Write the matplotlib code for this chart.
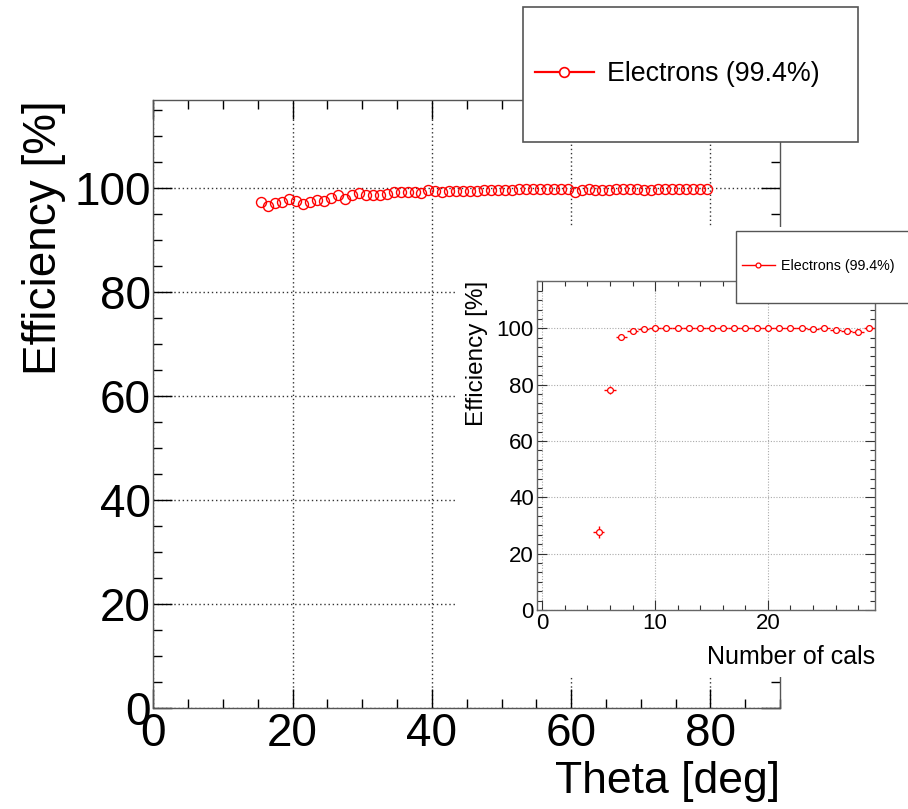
import numpy as np
import matplotlib
matplotlib.use("Agg")
import matplotlib.pyplot as plt
from matplotlib.patches import Rectangle
from matplotlib.lines import Line2D
from matplotlib.ticker import MultipleLocator

plt.rcParams['font.family'] = ['Liberation Sans', 'DejaVu Sans']

# main plot: efficiency vs theta (1 deg bins)
theta = np.arange(15.5, 80.0, 1.0)
eff_theta = [97.3, 96.6, 97.2, 97.3, 97.9, 97.5, 96.9, 97.4, 97.7, 97.6,
             98.1, 98.8, 97.9, 98.8, 99.0, 98.7, 98.8, 98.7, 98.9, 99.2,
             99.2, 99.2, 99.2, 99.0, 99.7,
             99.4, 99.3, 99.4, 99.4, 99.4, 99.5, 99.5, 99.6, 99.6, 99.6,
             99.7, 99.7, 99.8, 99.8, 99.8, 99.8, 99.8, 99.8, 99.8, 99.8,
             99.3,
             99.7, 99.8, 99.6, 99.6, 99.7, 99.8, 99.8, 99.9, 99.8, 99.6,
             99.7, 99.8, 99.8, 99.8, 99.9, 99.9, 99.9, 99.9, 99.9]

# inset: efficiency vs number of calorimeter hits
ncals = np.arange(5, 30)
eff_ncals = [27.8, 78.1, 97.0, 99.2, 99.6, 100.0, 100.0, 100.0, 100.0, 100.0,
             100.0, 100.0, 100.0, 100.0, 100.0, 100.0, 100.0, 100.0, 100.0, 99.7,
             100.0, 99.4, 99.0, 98.6, 100.0]
err_ncals = [2.1, 1.5, 0.6, 0.3, 0.2, 0.1, 0.1, 0.1, 0.1, 0.1,
             0.1, 0.1, 0.1, 0.1, 0.1, 0.1, 0.1, 0.1, 0.1, 0.3,
             0.1, 0.4, 0.6, 1.0, 0.1]

label = 'Electrons (99.4%)'
red = '#ff0000'
spine_c = '#555555'

fig = plt.figure(figsize=(9.08, 8.09), dpi=100)

ax = fig.add_axes([0.169, 0.1252, 0.690, 0.7512])
ax.plot(theta, eff_theta, 'o', ls='none', mfc='none', mec=red, ms=7.2, mew=1.0)
ax.set_xlim(0, 90)
ax.set_ylim(0, 117)
ax.xaxis.set_major_locator(MultipleLocator(20))
ax.xaxis.set_minor_locator(MultipleLocator(5))
ax.yaxis.set_major_locator(MultipleLocator(20))
ax.yaxis.set_minor_locator(MultipleLocator(5))
ax.tick_params(which='both', direction='in', top=True, right=True, color='black', width=1.0)
ax.tick_params(which='major', length=13.5, labelsize=33)
ax.tick_params(which='minor', length=6.8)
ax.tick_params(axis='x', pad=3)
ax.tick_params(axis='y', pad=2)
ax.grid(True, which='major', color='#333333', ls=(0, (1, 2)), lw=1.0)
for s in ax.spines.values():
    s.set_color(spine_c)
    s.set_linewidth(1.0)
ax.set_xlabel('Theta [deg]', fontsize=32, loc='right')
ax.set_ylabel('Efficiency [%]', fontsize=33, loc='top')
ax.xaxis.set_label_coords(1.0, -0.088)
ax.yaxis.set_label_coords(-0.14, 1.0)

# white pad behind the inset
fig.add_artist(Rectangle((0.501, 0.1632), 0.55, 0.5562, transform=fig.transFigure,
                         facecolor='white', edgecolor='none', zorder=1))

axi = fig.add_axes([0.5911, 0.246, 0.3726, 0.4067])
axi.set_zorder(2)
axi.errorbar(ncals, eff_ncals, xerr=0.5, yerr=err_ncals, fmt='o', color=red,
             mfc='white', mec=red, ms=4.2, mew=0.9, elinewidth=1.0, capsize=0)
axi.set_xlim(-0.5, 29.5)
axi.set_ylim(0, 116.8)
axi.xaxis.set_major_locator(MultipleLocator(10))
axi.xaxis.set_minor_locator(MultipleLocator(2))
axi.yaxis.set_major_locator(MultipleLocator(20))
axi.yaxis.set_minor_locator(MultipleLocator(20 / 6))
axi.tick_params(which='both', direction='in', top=True, right=True, color='#333333', width=0.8)
axi.tick_params(which='major', length=7.2, labelsize=16)
axi.tick_params(which='minor', length=3.6)
axi.tick_params(axis='x', pad=2)
axi.tick_params(axis='y', pad=2)
axi.grid(True, which='major', color='#aaaaaa', ls=(0, (1, 1.5)), lw=0.8)
for s in axi.spines.values():
    s.set_color('#666666')
    s.set_linewidth(1.0)
axi.set_xlabel('Number of cals', fontsize=18, loc='right')
axi.set_ylabel('Efficiency [%]', fontsize=17.5, loc='top')
axi.xaxis.set_label_coords(1.0, -0.106)
axi.yaxis.set_label_coords(-0.145, 1.0)

# legend boxes
fig.add_artist(Rectangle((0.576, 0.8245), 0.369, 0.1669, transform=fig.transFigure,
                         facecolor='white', edgecolor='#555555', lw=1.2, zorder=3))
fig.add_artist(Rectangle((0.8106, 0.6255), 0.25, 0.089, transform=fig.transFigure,
                         facecolor='white', edgecolor='#555555', lw=1.0, zorder=3))

h_main = Line2D([], [], color=red, lw=1.6, marker='o', mfc='white', mec=red, ms=7, mew=1.2)
h_inset = Line2D([], [], color=red, lw=1.0, marker='o', mfc='white', mec=red, ms=3.5, mew=0.9)
leg1 = fig.legend([h_main], [label], loc='center left', bbox_to_anchor=(535 / 908, 1 - 74 / 809),
                  frameon=False, fontsize=19.3, handlelength=2.2, handletextpad=0.49,
                  borderpad=0, borderaxespad=0)
leg1.set_zorder(4)
leg2 = fig.legend([h_inset], [label], loc='center left', bbox_to_anchor=(742 / 908, 1 - 266 / 809),
                  frameon=False, fontsize=10.3, handlelength=2.3, handletextpad=0.42,
                  borderpad=0, borderaxespad=0)
leg2.set_zorder(4)

fig.savefig('out.png', dpi=100)
